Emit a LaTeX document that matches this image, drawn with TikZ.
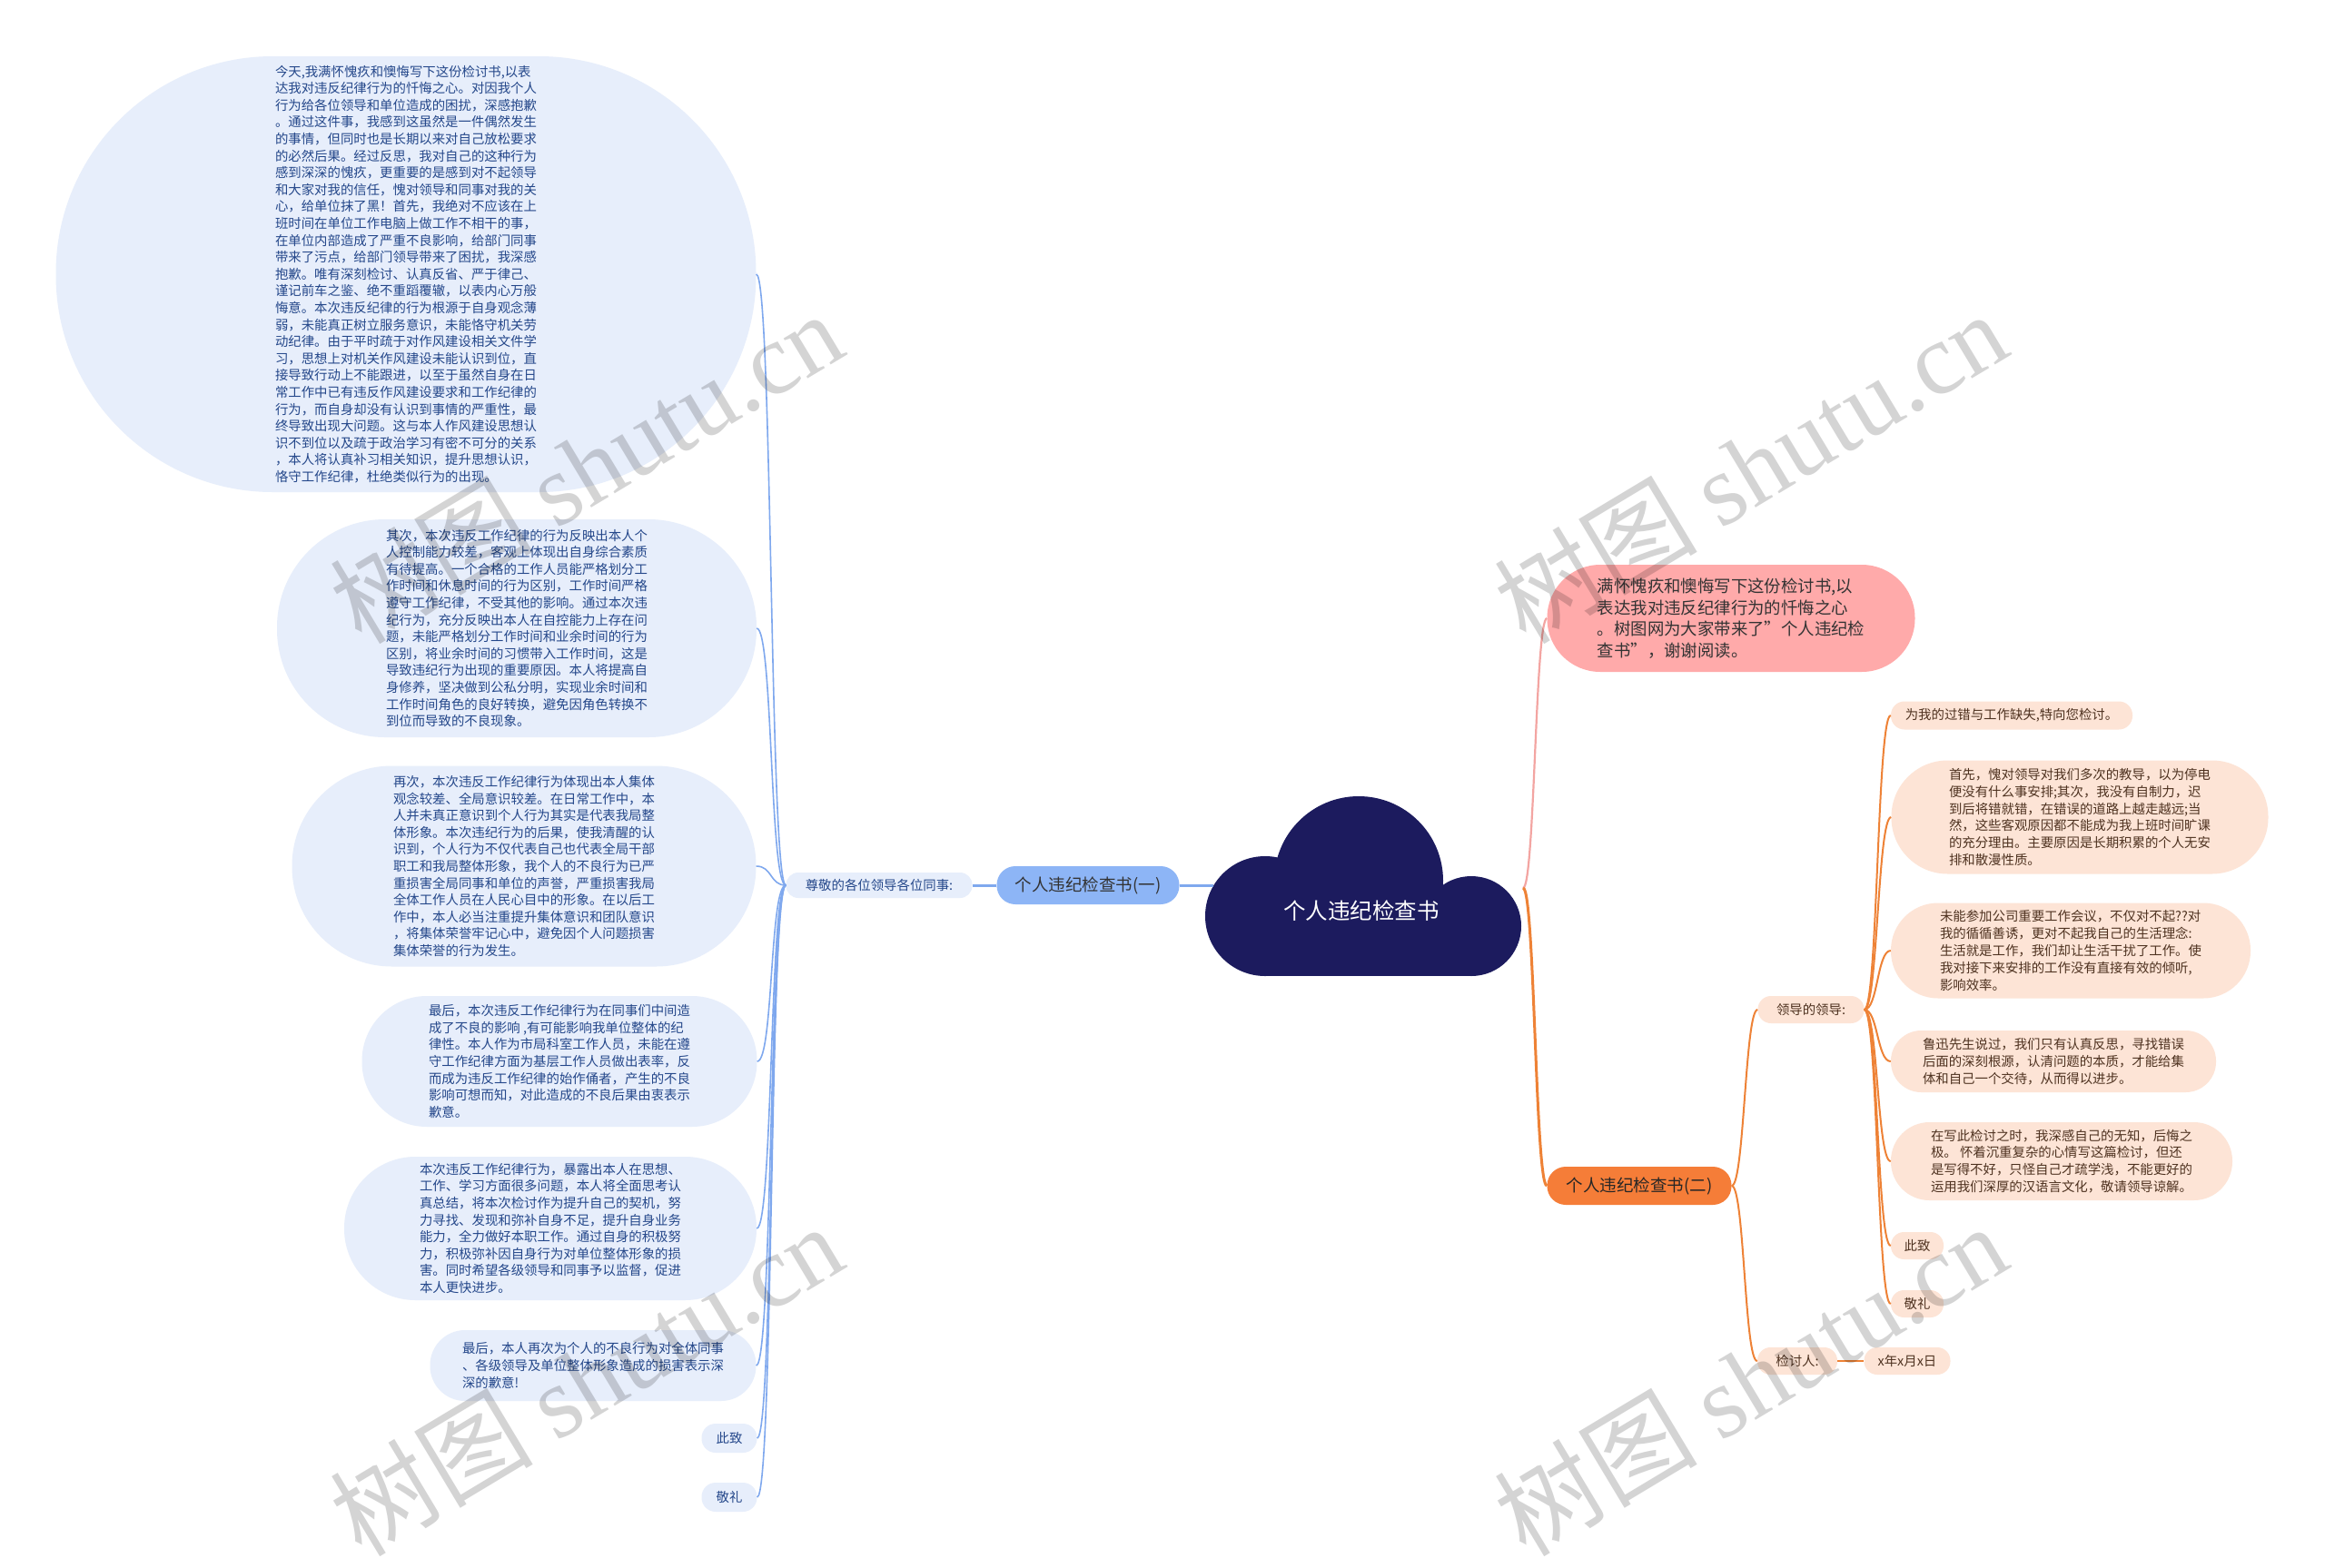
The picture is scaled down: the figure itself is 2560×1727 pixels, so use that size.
\documentclass[tikz,border=0pt]{standalone}
\usepackage{fontspec}
\setmainfont{Noto Sans CJK SC}
\newfontfamily\wmlatin{Liberation Serif}
\usepackage{xcolor}
\definecolor{cloud-navy}{HTML}{1C1B5E}
\definecolor{left-pill}{HTML}{8DB5F6}
\definecolor{left-bg}{HTML}{E7EEFB}
\definecolor{left-text}{HTML}{24478A}
\definecolor{left-line}{HTML}{7FA8EE}
\definecolor{pink-bg}{HTML}{FFAAAA}
\definecolor{pink-line}{HTML}{F3A5A2}
\definecolor{orange-pill}{HTML}{F57D38}
\definecolor{orange-line}{HTML}{EE8236}
\definecolor{peach-bg}{HTML}{FDE4D6}
\definecolor{peach-text}{HTML}{4E3220}

\begin{document}
\begin{tikzpicture}[x=1pt, y=-1pt,
      every node/.style={inner sep=0pt},
      lbub/.style={fill=left-bg, text=left-text, align=left,
                   font=\fontsize{14.4}{18.6}\selectfont},
      rbub/.style={fill=peach-bg, text=peach-text, align=left,
                   font=\fontsize{14.4}{18.8}\selectfont},
      pill/.style={minimum height=42, rounded corners=20.5,
                   font=\fontsize{18.5}{22}\selectfont},
      trunkl/.style={draw=left-line, line width=3},
      fanl/.style={draw=left-line, line width=1.6},
      pinkl/.style={draw=pink-line, line width=2.2},
      trunkr/.style={draw=orange-line, line width=3},
      fanr/.style={draw=orange-line, line width=2},
      watermark/.style={text=black, text opacity=0.17, rotate=31,
                        font=\fontsize{112}{120}\selectfont}]
    \fill[white] (0,0) rectangle (2560,1727);
    \useasboundingbox (0,0) rectangle (2560,1727);

    % cloud
    \fill[cloud-navy] (1393,1009) circle[radius=66pt];
    \fill[cloud-navy] (1496,970) circle[radius=93pt];
    \fill[cloud-navy] (1620,1020) circle[radius=55pt];
    \fill[cloud-navy] (1393,985) rectangle (1620,1075);
    \node[text=white, font=\fontsize{24.5}{28}\selectfont] (root) at (1499,1003) {个人违纪检查书};
    \coordinate (root-w) at (1336,975);
    \coordinate (root-e) at (1677,978);

    % left branch
    \node[pill, fill=left-pill, text=black!80, minimum width=201] (one) at (1198,975) {个人违纪检查书(一)};
    \node[lbub, minimum width=205, minimum height=28, rounded corners=13.5] (greet) at (968,975) {尊敬的各位领导各位同事:};
    \node[lbub, minimum width=771, minimum height=480, rounded corners=239] (b1) at (447,302)
      {今天,我满怀愧疚和懊悔写下这份检讨书,以表\\
       达我对违反纪律行为的忏悔之心。对因我个人\\
       行为给各位领导和单位造成的困扰，深感抱歉\\
       。通过这件事，我感到这虽然是一件偶然发生\\
       的事情，但同时也是长期以来对自己放松要求\\
       的必然后果。经过反思，我对自己的这种行为\\
       感到深深的愧疚，更重要的是感到对不起领导\\
       和大家对我的信任，愧对领导和同事对我的关\\
       心，给单位抹了黑！首先，我绝对不应该在上\\
       班时间在单位工作电脑上做工作不相干的事，\\
       在单位内部造成了严重不良影响，给部门同事\\
       带来了污点，给部门领导带来了困扰，我深感\\
       抱歉。唯有深刻检讨、认真反省、严于律己、\\
       谨记前车之鉴、绝不重蹈覆辙，以表内心万般\\
       悔意。本次违反纪律的行为根源于自身观念薄\\
       弱，未能真正树立服务意识，未能恪守机关劳\\
       动纪律。由于平时疏于对作风建设相关文件学\\
       习，思想上对机关作风建设未能认识到位，直\\
       接导致行动上不能跟进，以至于虽然自身在日\\
       常工作中已有违反作风建设要求和工作纪律的\\
       行为，而自身却没有认识到事情的严重性，最\\
       终导致出现大问题。这与本人作风建设思想认\\
       识不到位以及疏于政治学习有密不可分的关系\\
       ，本人将认真补习相关知识，提升思想认识，\\
       恪守工作纪律，杜绝类似行为的出现。};
    \node[lbub, minimum width=528, minimum height=240, rounded corners=119] (b2) at (569,692)
      {其次，本次违反工作纪律的行为反映出本人个\\
       人控制能力较差，客观上体现出自身综合素质\\
       有待提高。一个合格的工作人员能严格划分工\\
       作时间和休息时间的行为区别，工作时间严格\\
       遵守工作纪律，不受其他的影响。通过本次违\\
       纪行为，充分反映出本人在自控能力上存在问\\
       题，未能严格划分工作时间和业余时间的行为\\
       区别，将业余时间的习惯带入工作时间，这是\\
       导致违纪行为出现的重要原因。本人将提高自\\
       身修养，坚决做到公私分明，实现业余时间和\\
       工作时间角色的良好转换，避免因角色转换不\\
       到位而导致的不良现象。};
    \node[lbub, minimum width=511, minimum height=221, rounded corners=110] (b3) at (577,954)
      {再次，本次违反工作纪律行为体现出本人集体\\
       观念较差、全局意识较差。在日常工作中，本\\
       人并未真正意识到个人行为其实是代表我局整\\
       体形象。本次违纪行为的后果，使我清醒的认\\
       识到，个人行为不仅代表自己也代表全局干部\\
       职工和我局整体形象，我个人的不良行为已严\\
       重损害全局同事和单位的声誉，严重损害我局\\
       全体工作人员在人民心目中的形象。在以后工\\
       作中，本人必当注重提升集体意识和团队意识\\
       ，将集体荣誉牢记心中，避免因个人问题损害\\
       集体荣誉的行为发生。};
    \node[lbub, minimum width=435, minimum height=144, rounded corners=71.5] (b4) at (616,1169)
      {最后，本次违反工作纪律行为在同事们中间造\\
       成了不良的影响 ,有可能影响我单位整体的纪\\
       律性。本人作为市局科室工作人员，未能在遵\\
       守工作纪律方面为基层工作人员做出表率，反\\
       而成为违反工作纪律的始作俑者，产生的不良\\
       影响可想而知，对此造成的不良后果由衷表示\\
       歉意。};
    \node[lbub, minimum width=454, minimum height=158, rounded corners=78.5] (b5) at (606,1353)
      {本次违反工作纪律行为，暴露出本人在思想、\\
       工作、学习方面很多问题，本人将全面思考认\\
       真总结，将本次检讨作为提升自己的契机，努\\
       力寻找、发现和弥补自身不足，提升自身业务\\
       能力，全力做好本职工作。通过自身的积极努\\
       力，积极弥补因自身行为对单位整体形象的损\\
       害。同时希望各级领导和同事予以监督，促进\\
       本人更快进步。};
    \node[lbub, minimum width=359, minimum height=78, rounded corners=38.5] (b6) at (653,1504)
      {最后，本人再次为个人的不良行为对全体同事\\
       、各级领导及单位整体形象造成的损害表示深\\
       深的歉意!};
    \node[lbub, minimum width=61, minimum height=32, rounded corners=15.5] (lzhi) at (803,1584) {此致};
    \node[lbub, minimum width=61, minimum height=32, rounded corners=15.5] (ljing) at (803,1649) {敬礼};

    % right branch
    \node[fill=pink-bg, text=black!80, align=left, minimum width=405, minimum height=118,
          rounded corners=58.5, font=\fontsize{18.4}{23.5}\selectfont] (intro) at (1906,681)
      {满怀愧疚和懊悔写下这份检讨书,以\\
       表达我对违反纪律行为的忏悔之心\\
       。树图网为大家带来了\char34\relax 个人违纪检\\
       查书\char34\relax ，谢谢阅读。};
    \node[pill, fill=orange-pill, text=black!85, minimum width=203] (two) at (1805,1306) {个人违纪检查书(二)};
    \node[rbub, minimum width=117, minimum height=30, rounded corners=14.5] (lead) at (1994,1112) {领导的领导:};
    \node[rbub, minimum width=88, minimum height=30, rounded corners=14.5] (sign) at (1979,1499) {检讨人:};
    \node[rbub, minimum width=95, minimum height=30, rounded corners=14.5] (date) at (2100,1499) {x年x月x日};
    \node[rbub, minimum width=266, minimum height=31, rounded corners=15] (r1) at (2215,788)
      {为我的过错与工作缺失,特向您检讨。};
    \node[rbub, minimum width=415, minimum height=125, rounded corners=62] (r2) at (2290,900)
      {首先，愧对领导对我们多次的教导，以为停电\\
       便没有什么事安排;其次，我没有自制力，迟\\
       到后将错就错，在错误的道路上越走越远;当\\
       然，这些客观原因都不能成为我上班时间旷课\\
       的充分理由。主要原因是长期积累的个人无安\\
       排和散漫性质。};
    \node[rbub, minimum width=396, minimum height=105, rounded corners=52] (r3) at (2280,1047)
      {未能参加公司重要工作会议，不仅对不起??对\\
       我的循循善诱，更对不起我自己的生活理念:\\
       生活就是工作，我们却让生活干扰了工作。使\\
       我对接下来安排的工作没有直接有效的倾听,\\
       影响效率。};
    \node[rbub, minimum width=358, minimum height=68, rounded corners=33.5] (r4) at (2261,1169)
      {鲁迅先生说过，我们只有认真反思，寻找错误\\
       后面的深刻根源，认清问题的本质，才能给集\\
       体和自己一个交待，从而得以进步。};
    \node[rbub, minimum width=376, minimum height=86, rounded corners=42.5] (r5) at (2270,1279)
      {在写此检讨之时，我深感自己的无知，后悔之\\
       极。 怀着沉重复杂的心情写这篇检讨，但还\\
       是写得不好，只怪自己才疏学浅，不能更好的\\
       运用我们深厚的汉语言文化，敬请领导谅解。};
    \node[rbub, minimum width=58, minimum height=30, rounded corners=14.5] (rzhi) at (2111,1372) {此致};
    \node[rbub, minimum width=58, minimum height=30, rounded corners=14.5] (rjing) at (2111,1436) {敬礼};

    % connectors
    \draw[trunkl] (root-w) -- (one.east);
    \draw[trunkl] (one.west) -- (greet.east);
    \foreach \n in {b1,b2,b3,b4,b5,b6,lzhi,ljing}
      \draw[fanl] (greet.west) .. controls +(-18,0) and +(18,0) .. (\n.east);
    \draw[pinkl] (root-e) .. controls +(13,0) and +(-13,0) .. (intro.west);
    \draw[trunkr] (root-e) .. controls +(13,0) and +(-13,0) .. (two.west);
    \foreach \n in {lead,sign}
      \draw[fanr] (two.east) .. controls +(14,0) and +(-14,0) .. (\n.west);
    \foreach \n in {r1,r2,r3,r4,r5,rzhi,rjing}
      \draw[fanr] (lead.east) .. controls +(15,0) and +(-15,0) .. (\n.west);
    \draw[fanr] (sign.east) -- (date.west);

    % watermarks
    \foreach \wx/\wy in {645/514, 1927/514, 645/1519, 1927/1519}
      \node[watermark] (wm-\wx-\wy) at (\wx,\wy) {树图 {\wmlatin shutu.cn}};
  \end{tikzpicture}
\end{document}
